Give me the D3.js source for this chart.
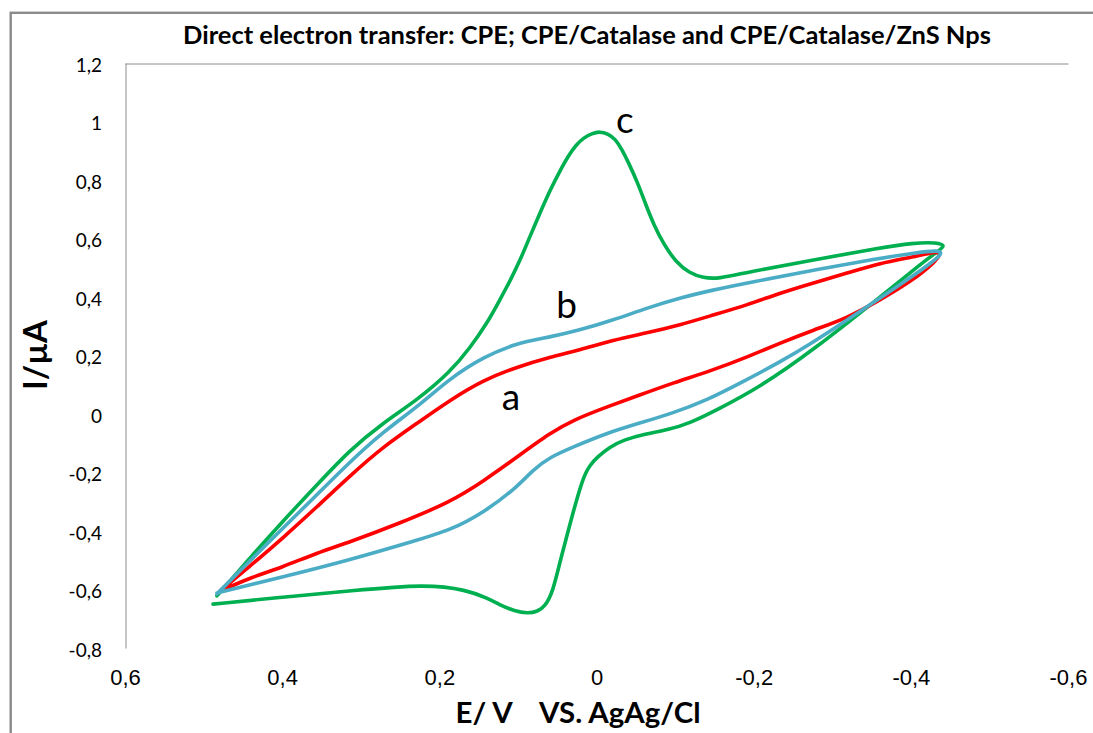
<!DOCTYPE html>
<html>
<head>
<meta charset="utf-8">
<script src="https://cdn.jsdelivr.net/npm/d3@7"></script>
<style>
  html, body { margin: 0; padding: 0; background: #fff; }
  svg { display: block; }
</style>
</head>
<body>
<svg id="chart" width="1093" height="733"></svg>
<script>
// ---- chart text ----
const chartTitle = "Direct electron transfer: CPE; CPE/Catalase and CPE/Catalase/ZnS Nps";
const xAxisTitle = "E/ V    VS. AgAg/Cl";
const yAxisTitle = "I/µA";

// ---- axis ticks ----
const xTicks = [0.6, 0.4, 0.2, 0, -0.2, -0.4, -0.6];
const yTicks = [-0.8, -0.6, -0.4, -0.2, 0, 0.2, 0.4, 0.6, 0.8, 1, 1.2];

// ---- cyclic voltammograms, [E (V), I (µA)] ----
// a: bare CPE
const curveA = [
  [0.479, -0.605], [0.470, -0.595], [0.441, -0.560], [0.399, -0.523], [0.356, -0.475],
  [0.314, -0.438], [0.250, -0.373], [0.186, -0.301], [0.144, -0.230], [0.101, -0.147],
  [0.059, -0.065], [0.030, -0.021], [-0.013, 0.024], [-0.055, 0.065], [-0.097, 0.106],
  [-0.148, 0.150], [-0.192, 0.195], [-0.234, 0.243], [-0.276, 0.287], [-0.319, 0.328],
  [-0.361, 0.390], [-0.403, 0.458], [-0.431, 0.520], [-0.438, 0.547],
  [-0.435, 0.557], [-0.403, 0.537], [-0.361, 0.516], [-0.319, 0.482], [-0.276, 0.448],
  [-0.234, 0.414], [-0.192, 0.373], [-0.148, 0.338], [-0.106, 0.304], [-0.064, 0.277],
  [-0.021, 0.253], [0.021, 0.219], [0.059, 0.195], [0.101, 0.161], [0.144, 0.116],
  [0.186, 0.048], [0.228, -0.031], [0.272, -0.113], [0.314, -0.212], [0.356, -0.318],
  [0.399, -0.424], [0.441, -0.520], [0.479, -0.605]
];
// b: CPE/Catalase
const curveB = [
  [0.483, -0.612], [0.399, -0.557], [0.314, -0.499], [0.228, -0.431], [0.186, -0.397],
  [0.144, -0.338], [0.101, -0.250], [0.081, -0.191], [0.059, -0.147], [0.030, -0.113],
  [-0.013, -0.065], [-0.055, -0.031], [-0.097, 0.003], [-0.141, 0.048], [-0.183, 0.106],
  [-0.234, 0.178], [-0.276, 0.246], [-0.319, 0.321], [-0.361, 0.397], [-0.403, 0.472],
  [-0.424, 0.513], [-0.440, 0.547],
  [-0.437, 0.561], [-0.403, 0.550], [-0.361, 0.533], [-0.276, 0.492], [-0.192, 0.448],
  [-0.148, 0.424], [-0.106, 0.397], [-0.064, 0.362], [-0.021, 0.321], [0.021, 0.287],
  [0.059, 0.263], [0.101, 0.243], [0.144, 0.195], [0.186, 0.123], [0.228, 0.024],
  [0.272, -0.062], [0.314, -0.164], [0.356, -0.277], [0.399, -0.390], [0.441, -0.502],
  [0.483, -0.615]
];
// c: CPE/Catalase/ZnS Nps
const curveC = [
  [0.488, -0.650], [0.399, -0.626], [0.314, -0.605], [0.216, -0.581], [0.165, -0.602],
  [0.139, -0.629], [0.123, -0.653], [0.104, -0.674], [0.088, -0.682], [0.075, -0.676],
  [0.065, -0.655], [0.056, -0.612], [0.046, -0.500], [0.030, -0.338], [0.017, -0.215],
  [0.008, -0.174], [-0.001, -0.147], [-0.017, -0.113], [-0.034, -0.089], [-0.062, -0.068],
  [-0.090, -0.055], [-0.119, -0.031], [-0.153, 0.014], [-0.208, 0.092], [-0.276, 0.219],
  [-0.361, 0.400], [-0.403, 0.492], [-0.433, 0.554], [-0.445, 0.576],
  [-0.433, 0.587], [-0.403, 0.585], [-0.361, 0.568], [-0.276, 0.527], [-0.192, 0.485],
  [-0.155, 0.462], [-0.136, 0.465], [-0.118, 0.482], [-0.101, 0.520], [-0.086, 0.578],
  [-0.073, 0.646], [-0.062, 0.721], [-0.052, 0.793], [-0.041, 0.858], [-0.032, 0.906],
  [-0.024, 0.940], [-0.015, 0.958], [-0.004, 0.966], [0.006, 0.959], [0.016, 0.945],
  [0.026, 0.920], [0.036, 0.882], [0.046, 0.834], [0.059, 0.766], [0.072, 0.687],
  [0.085, 0.605], [0.097, 0.527], [0.110, 0.455], [0.123, 0.390], [0.139, 0.311],
  [0.161, 0.226], [0.186, 0.144], [0.228, 0.048], [0.272, -0.031], [0.314, -0.123],
  [0.356, -0.243], [0.399, -0.366], [0.441, -0.492], [0.483, -0.622]
];

// curve letters and where they sit (E, I)
const curveLabels = [
  { text: "a", E: 0.109, I: 0.014 },
  { text: "b", E: 0.038, I: 0.328 },
  { text: "c", E: -0.036, I: 0.961 }
];

// ---- layout ----
const width = 1093, height = 733;
const plot = { left: 125, right: 1068, top: 63, bottom: 648 };
const frameColor = "#8a8a8a";
const axisColor = "#8c8c8c";
const seriesStyle = [
  { data: curveC, color: "#00b050" },
  { data: curveA, color: "#ff0000" },
  { data: curveB, color: "#4bacc6" }
];

const svg = d3.select("#chart");

const x = d3.scaleLinear().domain([0.6, -0.6]).range([plot.left, plot.right]);
const y = d3.scaleLinear().domain([-0.8, 1.2]).range([plot.bottom, plot.top]);

const locale = d3.formatLocale({
  decimal: ",", thousands: ".", grouping: [3], currency: ["", ""], minus: "-"
});
const fmt = locale.format(".1~f");

// outer chart frame
svg.append("rect")
  .attr("x", 10.7).attr("y", 12.8)
  .attr("width", width + 50).attr("height", height + 50)
  .attr("fill", "none")
  .attr("stroke", frameColor)
  .attr("stroke-width", 2.4);

// title
const title = svg.append("text")
  .attr("x", 587).attr("y", 44)
  .attr("text-anchor", "middle")
  .style("font-family", "Lato, 'Open Sans', sans-serif")
  .style("font-weight", "bold")
  .style("font-size", "20px")
  .attr("fill", "#000")
  .text(chartTitle);
fitWidth(title, 808);

// horizontal axis line along the top of the plot
const xTopAxis = svg.append("g")
  .attr("transform", `translate(0,${plot.top + 0.5})`)
  .call(d3.axisTop(x).tickValues([]).tickSizeOuter(0));
xTopAxis.select(".domain").attr("stroke", axisColor).attr("stroke-width", 1);

// horizontal tick labels below the plot
const xAxis = svg.append("g")
  .attr("transform", `translate(0,${plot.bottom})`)
  .call(d3.axisBottom(x).tickValues(xTicks).tickFormat(fmt).tickSize(0));
xAxis.select(".domain").remove();
xAxis.selectAll("text")
  .attr("y", 37).attr("dy", null)
  .style("font-family", "'Liberation Sans', Arial, sans-serif")
  .style("font-size", "22px")
  .attr("fill", "#000");

// vertical axis
const yAxis = svg.append("g")
  .attr("transform", `translate(${plot.left + 0.5},0)`)
  .call(d3.axisLeft(y).tickValues(yTicks).tickFormat(fmt).tickSize(0).tickSizeOuter(0));
yAxis.select(".domain").attr("stroke", axisColor).attr("stroke-width", 1);
yAxis.selectAll("text")
  .attr("x", -23.5).attr("dy", null).attr("y", 8)
  .style("font-family", "Lato, 'Open Sans', sans-serif")
  .style("font-size", "19px")
  .attr("fill", "#000");

// axis titles
const xTitle = svg.append("text")
  .attr("x", 578).attr("y", 723)
  .attr("text-anchor", "middle")
  .style("white-space", "pre")
  .attr("xml:space", "preserve")
  .style("font-family", "Lato, 'Open Sans', sans-serif")
  .style("font-weight", "bold")
  .style("font-size", "25px")
  .attr("fill", "#000")
  .text(xAxisTitle);
fitWidth(xTitle, 245);

const yTitle = svg.append("text")
  .attr("transform", "translate(47,355) rotate(-90)")
  .attr("text-anchor", "middle")
  .style("font-family", "Lato, 'Open Sans', sans-serif")
  .style("font-weight", "bold")
  .style("font-size", "30px")
  .attr("fill", "#000")
  .text(yAxisTitle);
fitWidth(yTitle, 70);

// voltammogram traces (smoothed through the sampled points)
const line = d3.line()
  .x(d => x(d[0]))
  .y(d => y(d[1]))
  .curve(d3.curveBasis);

svg.append("g")
  .selectAll("path")
  .data(seriesStyle)
  .join("path")
  .attr("d", s => line(s.data))
  .attr("fill", "none")
  .attr("stroke", s => s.color)
  .attr("stroke-width", 3.6)
  .attr("stroke-linejoin", "round")
  .attr("stroke-linecap", "round");

// curve letters
svg.append("g")
  .selectAll("text")
  .data(curveLabels)
  .join("text")
  .attr("x", d => x(d.E))
  .attr("y", d => y(d.I))
  .attr("text-anchor", "middle")
  .style("font-family", "Lato, 'Open Sans', sans-serif")
  .style("font-size", "37px")
  .attr("fill", "#000")
  .text(d => d.text);

// scale a text's font so that it spans the given width
function fitWidth(sel, target) {
  const node = sel.node();
  const size = parseFloat(sel.style("font-size"));
  const len = node.getComputedTextLength();
  if (len > 0) sel.style("font-size", (size * target / len).toFixed(2) + "px");
}
</script>
</body>
</html>
